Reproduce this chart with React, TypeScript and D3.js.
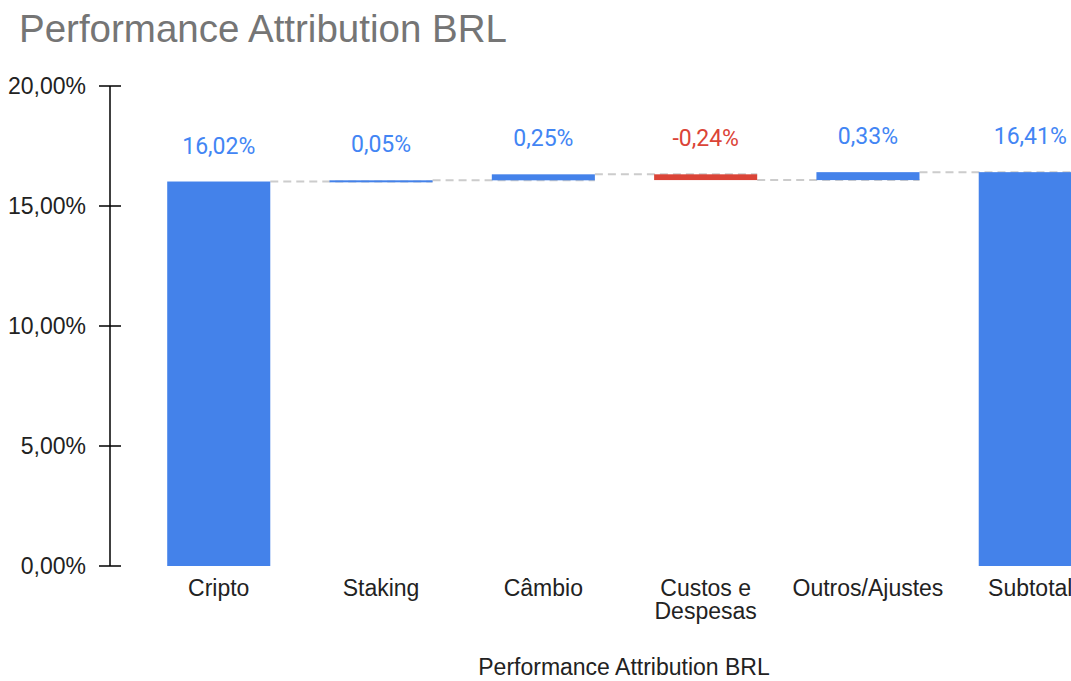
import React from 'react';
import * as d3 from 'd3';

const categories = ['Cripto', 'Staking', 'Câmbio', 'Custos e Despesas', 'Outros/Ajustes', 'Subtotal'];
const deltas = [16.02, 0.05, 0.25, -0.24, 0.33, 16.41];
const isTotal = [false, false, false, false, false, true];
const yTicks = [0, 5, 10, 15, 20];

const W = 1071;
const H = 681;
const BLUE = '#4482ea';
const RED = '#db4437';
const ARIAL = '"Liberation Sans", Arial, sans-serif';

const fmt = (v: number) => v.toFixed(2).replace('.', ',') + '%';

type Step = { cat: string; start: number; end: number; delta: number; total: boolean };

export default function App() {
  // running totals for the waterfall
  let run = 0;
  const steps: Step[] = categories.map((cat, i) => {
    if (isTotal[i]) {
      run = deltas[i];
      return { cat, start: 0, end: deltas[i], delta: deltas[i], total: true };
    }
    const s = run;
    run += deltas[i];
    return { cat, start: s, end: run, delta: deltas[i], total: false };
  });

  const x = d3.scaleBand<string>().domain(categories).range([138, 1111]).paddingInner(0.365).paddingOuter(0.18);
  const y = d3.scaleLinear().domain([0, 20]).range([566, 86]);
  const bw = x.bandwidth();

  return (
    <svg width={W} height={H} style={{ position: 'absolute', left: 0, top: 0, background: '#fff' }}>
      <text x={19} y={42} fontFamily={ARIAL} fontSize={38.5} fill="#757575">Performance Attribution BRL</text>

      {/* connectors */}
      {steps.slice(1).map((s, i) => {
        const prev = steps[i];
        const x0 = (x(prev.cat) as number) + bw;
        const x1 = (x(s.cat) as number) + bw;
        return (
          <line key={'c' + i} x1={x0} x2={x1} y1={y(prev.end)} y2={y(prev.end)}
            stroke="#cccccc" strokeWidth={2} strokeDasharray="8,5" />
        );
      })}

      {steps.map((s) => {
        const top = y(Math.max(s.start, s.end));
        const bot = y(Math.min(s.start, s.end));
        const h = Math.max(2, bot - top);
        const color = s.delta < 0 ? RED : BLUE;
        const cx = (x(s.cat) as number) + bw / 2;
        return (
          <g key={s.cat}>
            <rect x={x(s.cat)} y={top} width={bw} height={h} fill={color} />
            <text x={cx} y={top - 28} textAnchor="middle" fontFamily="Roboto, sans-serif" fontSize={23}
              fill={s.delta < 0 ? RED : '#4285f4'}>{fmt(s.delta)}</text>
          </g>
        );
      })}

      {/* y axis */}
      <line x1={110} x2={110} y1={y(20)} y2={y(0)} stroke="#000" strokeWidth={1.5} />
      {yTicks.map((t) => (
        <g key={t}>
          <line x1={99} x2={121} y1={y(t)} y2={y(t)} stroke="#000" strokeWidth={1.5} />
          <text x={86} y={y(t)} dy="0.36em" textAnchor="end" fontFamily={ARIAL} fontSize={23} fill="#222">{fmt(t)}</text>
        </g>
      ))}

      {/* category labels */}
      {categories.map((c) => {
        const cx = (x(c) as number) + bw / 2;
        const lines = c === 'Custos e Despesas' ? ['Custos e', 'Despesas'] : [c];
        return (
          <text key={c} x={cx} y={596} textAnchor="middle" fontFamily={ARIAL} fontSize={23} fill="#222">
            {lines.map((l, i) => (
              <tspan key={i} x={cx} dy={i === 0 ? 0 : 23}>{l}</tspan>
            ))}
          </text>
        );
      })}

      <text x={624} y={675} textAnchor="middle" fontFamily={ARIAL} fontSize={23} fill="#222">Performance Attribution BRL</text>
    </svg>
  );
}
